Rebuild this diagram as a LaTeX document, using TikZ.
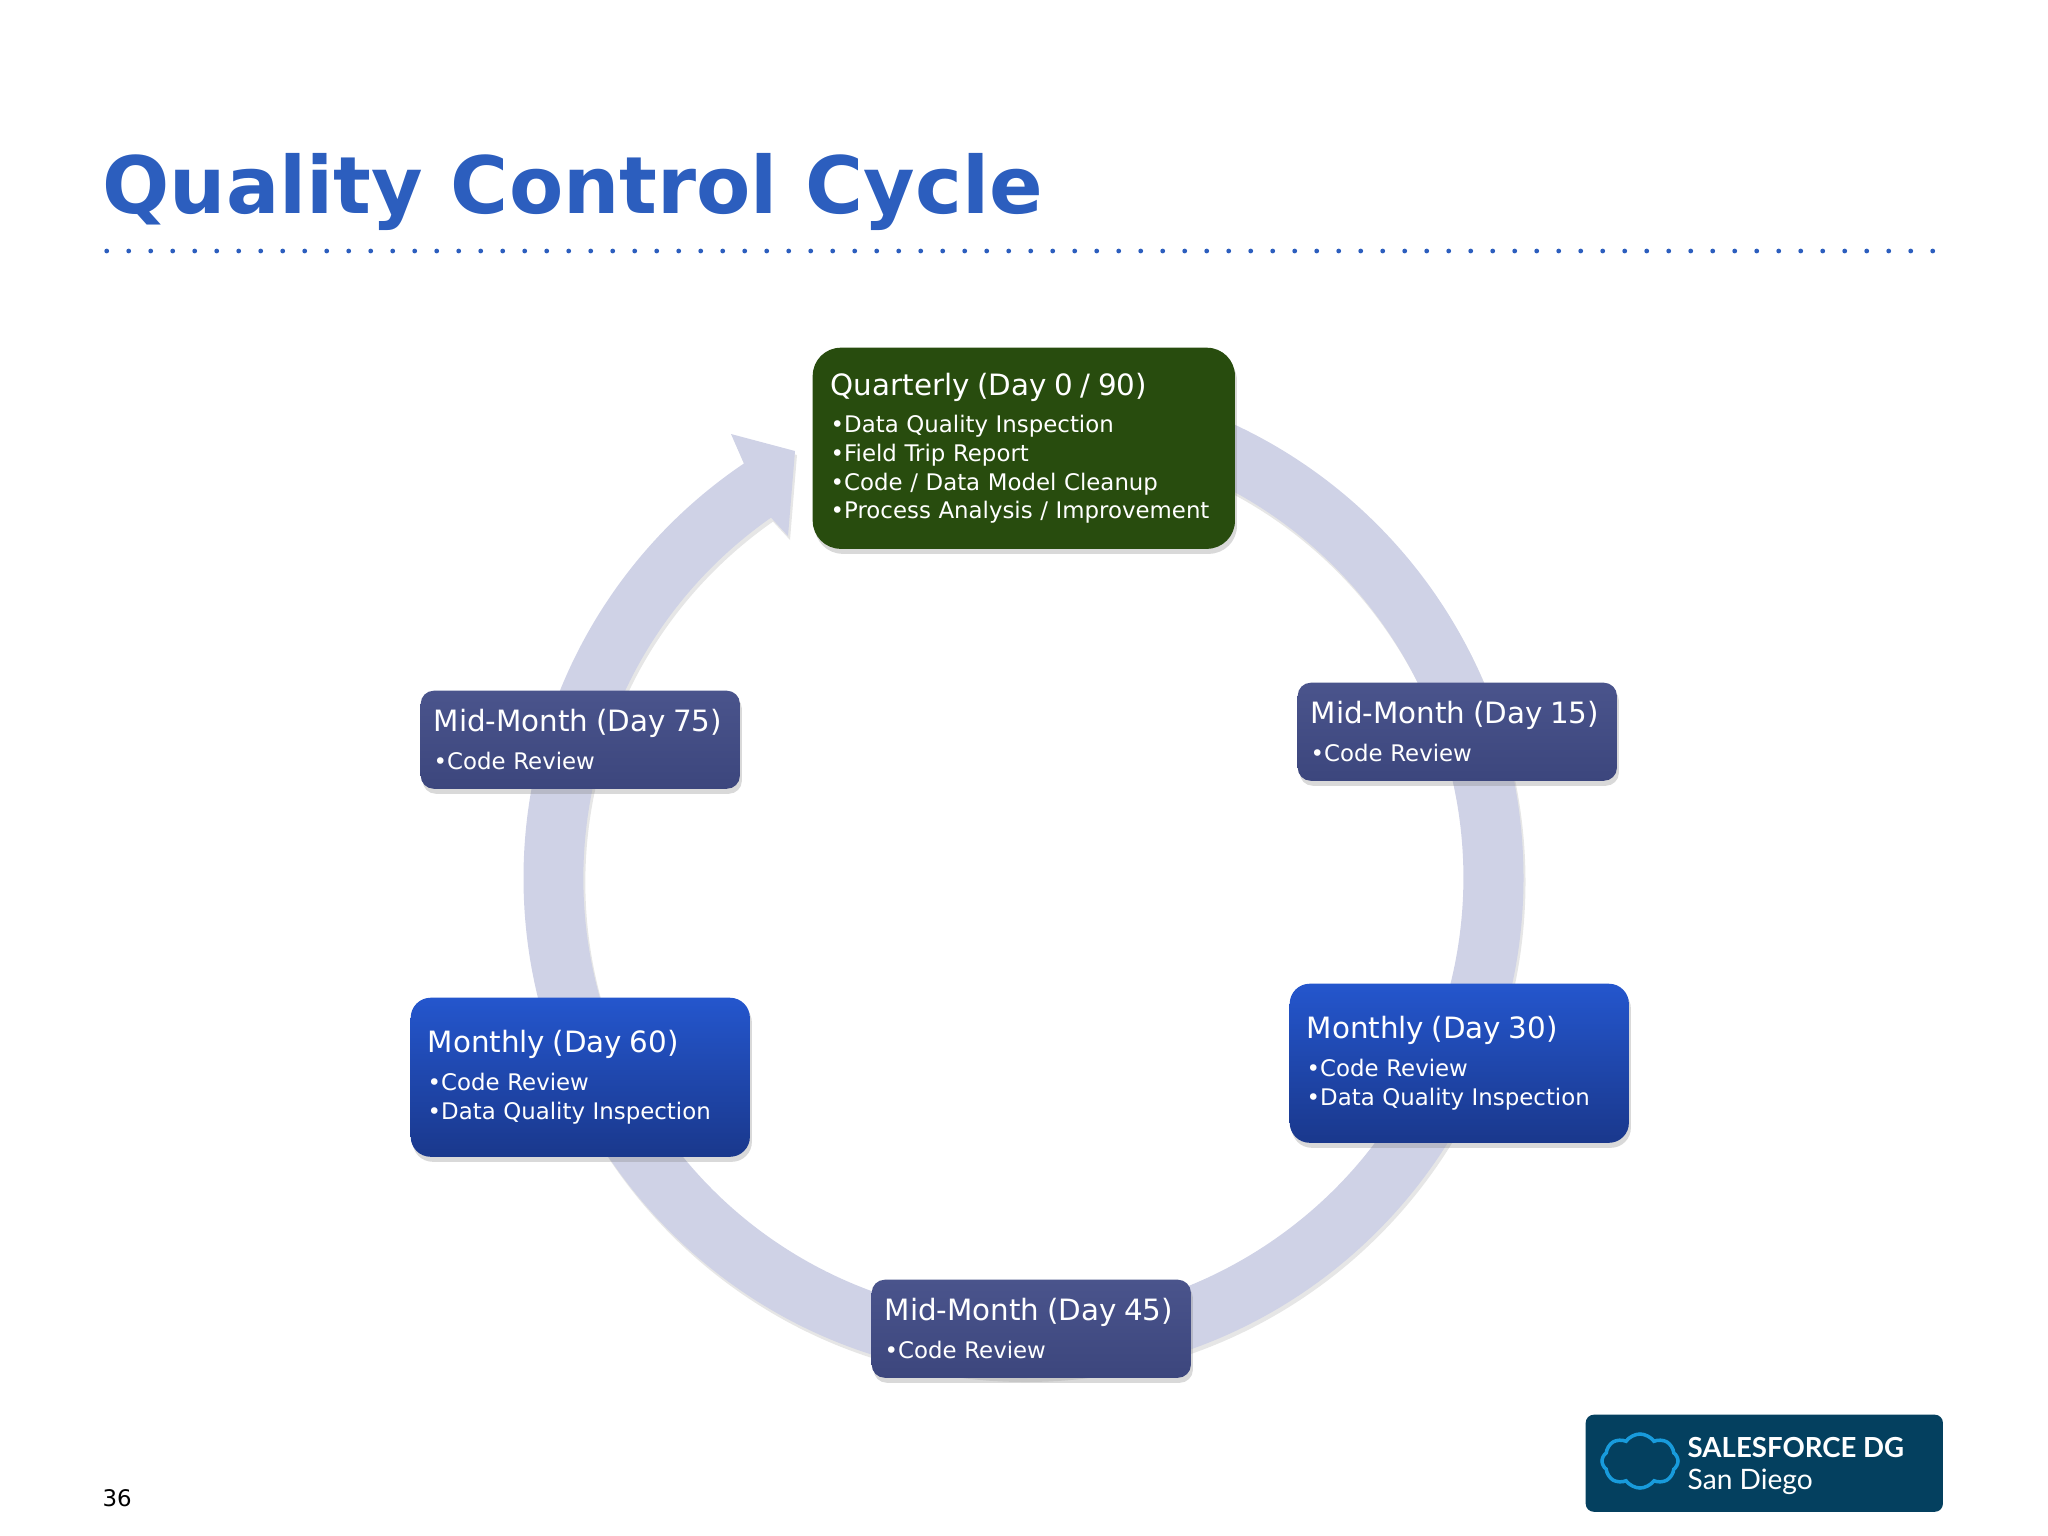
\documentclass[tikz,border=0pt]{standalone}
\usepackage{xcolor}
\usepackage{fontspec}
\setmainfont{DejaVu Sans}
\newfontfamily\logofont{Lato}
\usetikzlibrary{shadows,shapes.symbols}
\definecolor{titleblue}{HTML}{2C5EBE}
\definecolor{ringfill}{HTML}{CFD2E6}
\definecolor{logobg}{HTML}{04405F}
\definecolor{logocloud}{HTML}{189BDC}
\newcommand{\boxhead}[1]{{\fontsize{8.35pt}{10pt}\selectfont #1}\\[2.6pt]}
\tikzset{
  phasebox/.style={rounded corners=0.2cm,text=white,align=left,anchor=north west,inner sep=0pt,
    drop shadow={shadow xshift=0.02cm,shadow yshift=-0.05cm,opacity=0.3},
    font=\fontsize{6.5pt}{8.15pt}\selectfont},
  greenbox/.style={phasebox,fill={rgb,255:red,40;green,76;blue,14},rounded corners=0.28cm,
    minimum width=4.22cm,minimum height=2.01cm,text width=3.86cm},
  midbox/.style={phasebox,top color={rgb,255:red,74;green,84;blue,140},bottom color={rgb,255:red,60;green,70;blue,125},
    rounded corners=0.13cm,minimum width=3.19cm,minimum height=0.98cm,text width=2.93cm},
  monthbox/.style={phasebox,top color={rgb,255:red,36;green,86;blue,205},bottom color={rgb,255:red,26;green,56;blue,140},
    minimum width=3.39cm,minimum height=1.59cm,text width=3.05cm},
}
\begin{document}
\begin{tikzpicture}[x=0.01cm,y=-0.01cm]
  \useasboundingbox (0,0) rectangle (2048,1536);
  \node[anchor=base west,inner sep=0pt,text=titleblue,font=\fontsize{22.5pt}{26pt}\selectfont\bfseries] (title) at (102,213) {Quality Control Cycle};
  % dotted rule under the title
  \foreach \i in {0,...,83}
    \fill[titleblue] ({106.7+22*\i},251) circle (2.4);
  % ring with arrow head
  \coordinate (ringc) at (1023.5,878);
  \fill[ringfill,drop shadow={shadow xshift=0.02cm,shadow yshift=-0.04cm,opacity=0.2}]
    (ringc) ++(-90:500) arc[start angle=-90,end angle=236,radius=500]
    -- (731,434) -- (795,451) -- (788,536) -- (771,517.6)
    arc[start angle=235,end angle=-90,radius=440] -- cycle;
  \node[greenbox] (q0) at (812,347) {\boxhead{Quarterly (Day 0 / 90)}%
    •Data Quality Inspection\\•Field Trip Report\\•Code / Data Model Cleanup\\•Process Analysis / Improvement};
  \node[midbox] (m15) at (1297,682) {\boxhead{Mid-Month (Day 15)}•Code Review};
  \node[monthbox] (m30) at (1289,983) {\boxhead{Monthly (Day 30)}•Code Review\\•Data Quality Inspection};
  \node[midbox] (m45) at (871,1279) {\boxhead{Mid-Month (Day 45)}•Code Review};
  \node[monthbox] (m60) at (410,997) {\boxhead{Monthly (Day 60)}•Code Review\\•Data Quality Inspection};
  \node[midbox] (m75) at (420,690) {\boxhead{Mid-Month (Day 75)}•Code Review};
  % page number
  \node[anchor=base west,inner sep=0pt,font=\fontsize{6.5pt}{8pt}\selectfont] (pagenum) at (102,1506) {36};
  % logo
  \node[anchor=north west,fill=logobg,rounded corners=0.08cm,minimum width=3.57cm,minimum height=0.97cm,inner sep=0pt] (logo) at (1585,1414) {};
  \node[cloud,cloud puffs=8,cloud puff arc=110,aspect=1.4,draw=logocloud,line width=1pt,minimum width=0.76cm,minimum height=0.54cm,inner sep=0pt] (cloudmark) at (1640,1461) {};
  \node[anchor=base west,inner sep=0pt,text=white,font=\logofont\fontsize{7.85pt}{9pt}\selectfont\bfseries] (logoa) at (1687,1457) {SALESFORCE DG};
  \node[anchor=base west,inner sep=0pt,text=white,font=\logofont\fontsize{8pt}{9pt}\selectfont] (logob) at (1687,1489) {San Diego};
\end{tikzpicture}
\end{document}
